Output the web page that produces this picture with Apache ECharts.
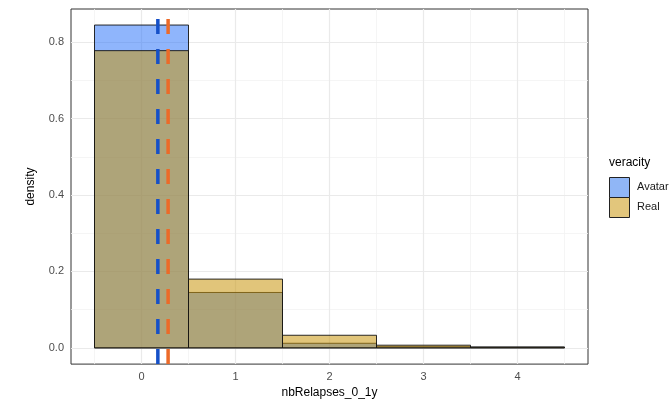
<!DOCTYPE html>
<html>
<head>
<meta charset="utf-8">
<script src="https://cdn.jsdelivr.net/npm/echarts@6/dist/echarts.min.js"></script>
<style>
  html, body { margin: 0; padding: 0; background: #fff; }
  #chart { width: 670px; height: 404px; }
</style>
</head>
<body>
<div id="chart"></div>
<script>
// Histogram (density) of relapses in the first year, by veracity group
const relapseBins = [0, 1, 2, 3, 4];
const avatarDensity = [0.845, 0.145, 0.012, 0.003, 0.002];
const realDensity = [0.778, 0.180, 0.033, 0.007, 0.002];
const avatarMean = 0.174;
const realMean = 0.283;
const xTicks = [0, 1, 2, 3, 4];
const yTicks = [0, 0.2, 0.4, 0.6, 0.8];
const xMinor = [-0.5, 0.5, 1.5, 2.5, 3.5, 4.5];
const yMinor = [0.1, 0.3, 0.5, 0.7];
const groupNames = ['Avatar', 'Real'];

const X_MIN = -0.75, X_MAX = 4.75;
const Y_MIN = -0.0425, Y_MAX = 0.887;

const fillAvatar = 'rgba(32,108,250,0.5)';
const fillReal = 'rgba(200,150,12,0.55)';
const keyAvatar = '#90B6F6';
const keyReal = '#E2C67C';
const meanAvatarColor = '#1550C8';
const meanRealColor = '#EC6A28';

const font = '"Liberation Sans", Arial, sans-serif';

function barSeries(name, values, fill, z) {
  return {
    name: name,
    type: 'custom',
    z: z,
    itemStyle: { color: fill, borderColor: '#222', borderWidth: 1 },
    data: relapseBins.map((b, i) => [b, values[i]]),
    renderItem: function (params, api) {
      const x = api.value(0), h = api.value(1);
      const p0 = api.coord([x - 0.5, 0]);
      const p1 = api.coord([x + 0.5, h]);
      return {
        type: 'rect',
        shape: { x: p0[0], y: p1[1], width: p1[0] - p0[0], height: p0[1] - p1[1] },
        style: { fill: fill, stroke: 'rgba(20,20,20,0.9)', lineWidth: 1 }
      };
    }
  };
}

function meanSeries(name, value, color) {
  return {
    name: name,
    type: 'custom',
    z: 30,
    silent: true,
    data: [[value]],
    renderItem: function (params, api) {
      const x = api.value(0);
      const pb = api.coord([x, Y_MIN]);
      const pt = api.coord([x, Y_MAX]);
      return {
        type: 'line',
        shape: { x1: pb[0], y1: pb[1], x2: pt[0], y2: pt[1] },
        style: { stroke: color, lineWidth: 3.5, lineDash: [15, 15] }
      };
    }
  };
}

// panel grid lines (major and minor)
const gridLines = []
  .concat(xMinor.map(v => ({ xAxis: v, lineStyle: { color: '#F3F3F3', width: 0.8, type: 'solid' } })))
  .concat(yMinor.map(v => ({ yAxis: v, lineStyle: { color: '#F3F3F3', width: 0.8, type: 'solid' } })))
  .concat(xTicks.map(v => ({ xAxis: v, lineStyle: { color: '#EAEAEA', width: 1.2, type: 'solid' } })))
  .concat(yTicks.map(v => ({ yAxis: v, lineStyle: { color: '#EAEAEA', width: 1.2, type: 'solid' } })));

// legend keys and labels for the fill scale
const legendX = 609, legendY = 177, keySize = 20;
const legendGraphics = [{
  type: 'text', left: legendX, top: 157,
  style: { text: 'veracity', fontSize: 12, fill: '#000', fontFamily: font }
}];
[keyAvatar, keyReal].forEach((c, i) => {
  legendGraphics.push({
    type: 'rect',
    shape: { x: legendX + 0.5, y: legendY + i * keySize + 0.5, width: keySize, height: keySize },
    style: { fill: c, stroke: '#222', lineWidth: 1 }
  });
  legendGraphics.push({
    type: 'text', x: legendX + keySize + 8, y: legendY + i * keySize + keySize / 2,
    style: { text: groupNames[i], fontSize: 11, fill: '#1A1A1A', fontFamily: font, verticalAlign: 'middle' }
  });
});

const chart = echarts.init(document.getElementById('chart'), null, { renderer: 'canvas' });
chart.setOption({
  animation: false,
  backgroundColor: '#ffffff',
  textStyle: { fontFamily: font },
  grid: {
    left: 71, top: 9, width: 517, height: 357,
    show: true, borderColor: '#333333', borderWidth: 1, backgroundColor: 'transparent'
  },
  xAxis: {
    type: 'value', min: X_MIN, max: X_MAX,
    name: 'nbRelapses_0_1y', nameLocation: 'middle', nameGap: 17,
    nameTextStyle: { fontSize: 12, color: '#000', fontFamily: font },
    axisLine: { show: false },
    splitLine: { show: false },
    axisTick: { show: true, length: 4, customValues: xTicks, lineStyle: { color: '#333' } },
    axisLabel: { customValues: xTicks, margin: 7, fontSize: 11, color: '#4D4D4D', fontFamily: font,
      formatter: v => String(Math.round(v)) }
  },
  yAxis: {
    type: 'value', min: Y_MIN, max: Y_MAX,
    name: 'density', nameLocation: 'middle', nameGap: 34, nameRotate: 90,
    nameTextStyle: { fontSize: 12, color: '#000', fontFamily: font },
    axisLine: { show: false },
    splitLine: { show: false },
    axisTick: { show: true, length: 4, customValues: yTicks, lineStyle: { color: '#333' } },
    axisLabel: { customValues: yTicks, margin: 7, fontSize: 11, color: '#4D4D4D', fontFamily: font,
      formatter: v => v.toFixed(1) }
  },
  graphic: legendGraphics,
  series: [
    {
      type: 'line', data: [], z: 0, silent: true,
      markLine: { silent: true, z: 1, symbol: 'none', label: { show: false }, data: gridLines, animation: false }
    },
    barSeries(groupNames[0], avatarDensity, fillAvatar, 10),
    barSeries(groupNames[1], realDensity, fillReal, 11),
    meanSeries('avatarMean', avatarMean, meanAvatarColor),
    meanSeries('realMean', realMean, meanRealColor)
  ]
});
</script>
</body>
</html>
